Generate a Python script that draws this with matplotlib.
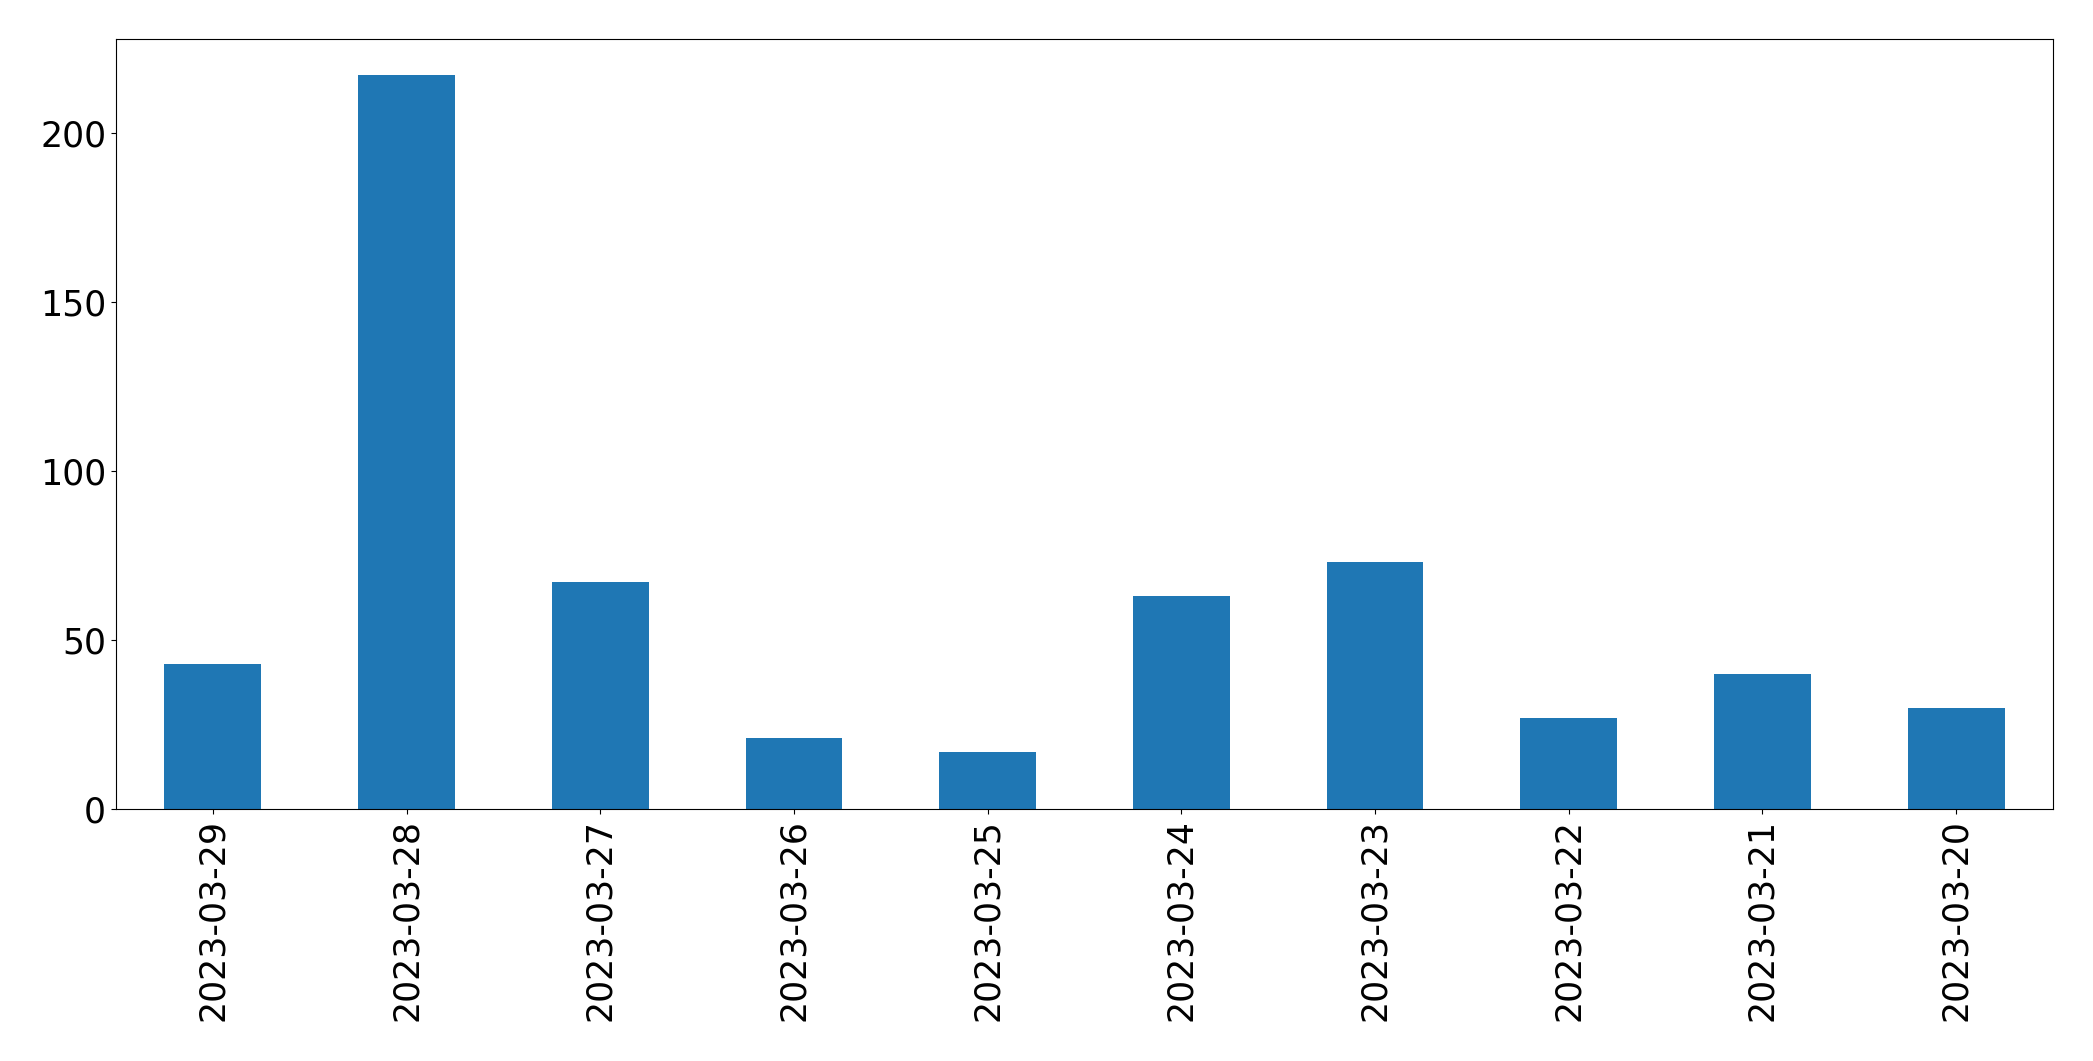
import matplotlib
matplotlib.use("Agg")
import matplotlib.pyplot as plt

dates = ["2023-03-29", "2023-03-28", "2023-03-27", "2023-03-26", "2023-03-25",
         "2023-03-24", "2023-03-23", "2023-03-22", "2023-03-21", "2023-03-20"]
counts = [43, 217, 67, 21, 17, 63, 73, 27, 40, 30]

fig = plt.figure(figsize=(20.93, 10.61), dpi=100)
ax = fig.add_axes([116/2093, 1 - 809/1061, (2053 - 116)/2093, (809 - 38.7)/1061])
x = list(range(len(dates)))
ax.bar(x, counts, width=0.5, color="#1f77b4")
ax.set_xlim(-0.5, len(dates) - 0.5)
ax.set_ylim(0, max(counts) * 1.05)
ax.set_xticks(x)
ax.set_xticklabels(dates, rotation=90)
ax.set_yticks([0, 50, 100, 150, 200])
ax.tick_params(axis="both", labelsize=25, length=3.6)
fig.savefig("out.png", dpi=100)
